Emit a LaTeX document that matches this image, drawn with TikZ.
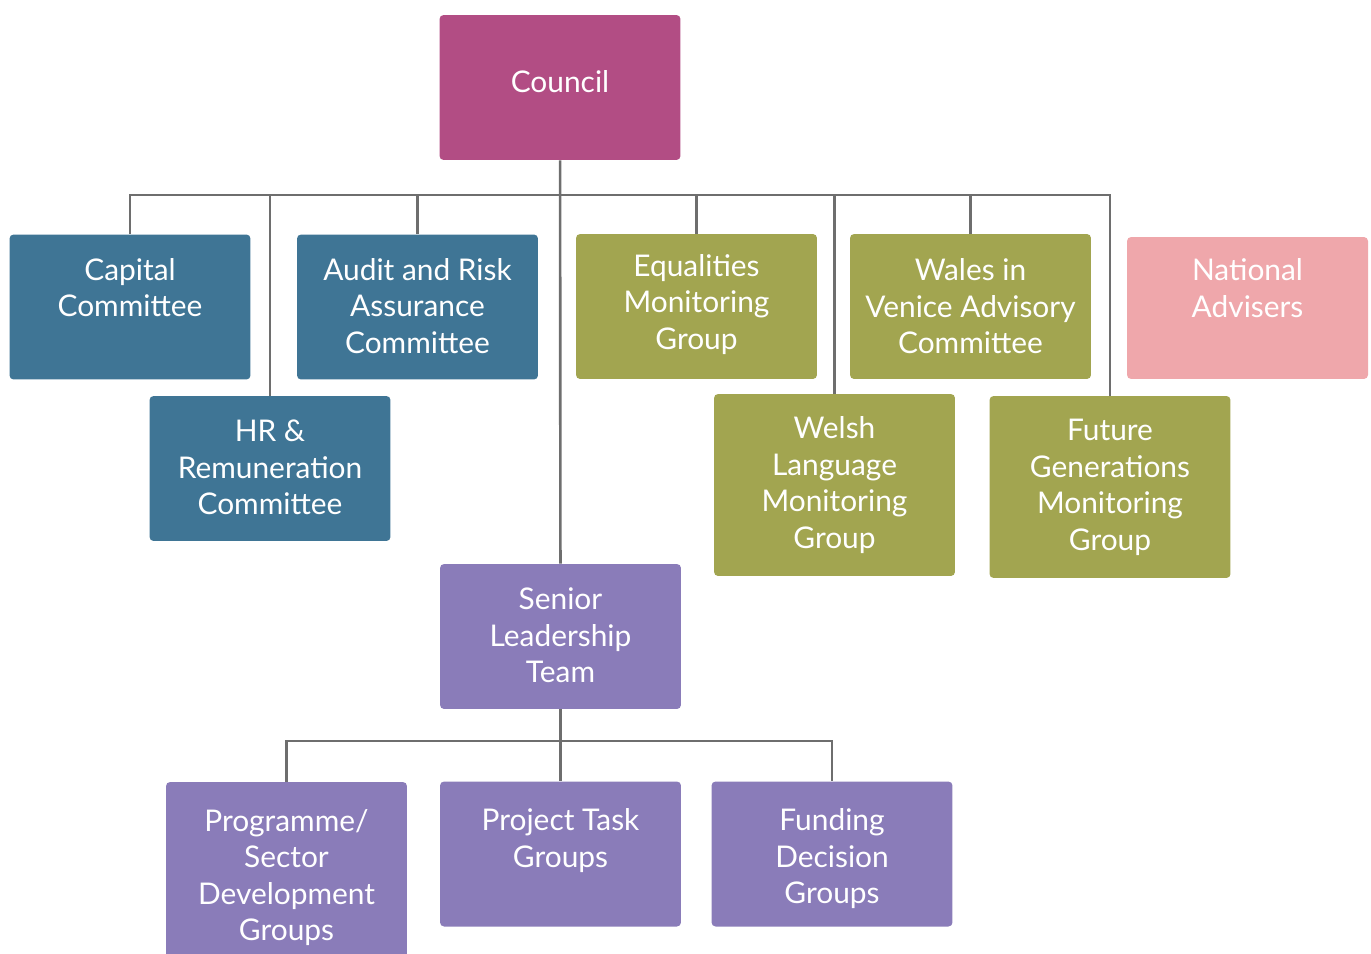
\documentclass[tikz,border=0pt]{standalone}
\usepackage{fontspec}
\setmainfont{Lato}
\usetikzlibrary{positioning,calc}
\usepackage{xcolor}

\definecolor{councilpink}{HTML}{B24D84}
\definecolor{committeeblue}{HTML}{3F7595}
\definecolor{groupolive}{HTML}{A2A550}
\definecolor{adviserpink}{HTML}{EFA7AB}
\definecolor{teampurple}{HTML}{8A7CB9}
\definecolor{linkgray}{HTML}{6E6E6E}

% box text: fixed height, lines hung from the top
\newcommand{\boxtext}[3]{\parbox[c][#1][t]{4.7cm}{\centering\rule{0pt}{#2}#3}}

\begin{document}
\begin{tikzpicture}[
    x=0.02cm, y=-0.02cm,
    every node/.style={font=\fontsize{17pt}{20.8pt}\selectfont},
    orgbox/.style={
        rectangle,
        rounded corners=2.3pt,
        inner sep=0pt,
        minimum width=4.82cm,
        text=white
    },
    link/.style={
        draw=linkgray,
        line width=1.5pt
    }
]

\useasboundingbox (0,0) rectangle (1371,953);

% Council at the top
\node[orgbox, fill=councilpink] (council) at (560,87.5)
    {\boxtext{2.9cm}{44pt}{Council}};

% First row of committees and groups
\node[orgbox, fill=committeeblue] (capital) at (130,307)
    {\boxtext{2.9cm}{26pt}{Capital\\Committee}};
\node[orgbox, fill=committeeblue] (audit) at (417.5,307)
    {\boxtext{2.9cm}{26pt}{Audit and Risk\\Assurance\\Committee}};
\node[orgbox, fill=groupolive] (equal) at (696.5,306.5)
    {\boxtext{2.9cm}{24pt}{Equalities\\Monitoring\\Group}};
\node[orgbox, fill=groupolive] (venice) at (970.5,306.5)
    {\boxtext{2.9cm}{26.5pt}{Wales in\\Venice Advisory\\Committee}};
\node[orgbox, fill=adviserpink] (national) at (1247.5,308)
    {\boxtext{2.84cm}{25pt}{National\\Advisers}};

% Second row
\node[orgbox, fill=committeeblue] (hr) at (270,468.5)
    {\boxtext{2.9cm}{26pt}{HR \&\\Remuneration\\Committee}};
\node[orgbox, fill=groupolive] (welsh) at (834.5,485)
    {\boxtext{3.64cm}{25.5pt}{Welsh\\Language\\Monitoring\\Group}};
\node[orgbox, fill=groupolive] (future) at (1110,487)
    {\boxtext{3.64cm}{25.5pt}{Future\\Generations\\Monitoring\\Group}};

% Senior Leadership Team and its groups
\node[orgbox, fill=teampurple] (slt) at (560.5,636.5)
    {\boxtext{2.9cm}{26pt}{Senior\\Leadership\\Team}};
\node[orgbox, fill=teampurple] (programme) at (286.5,873)
    {\boxtext{3.64cm}{28pt}{Programme/\\Sector\\Development\\Groups}};
\node[orgbox, fill=teampurple] (project) at (560.5,854)
    {\boxtext{2.9cm}{28pt}{Project Task\\Groups}};
\node[orgbox, fill=teampurple] (funding) at (832,854)
    {\boxtext{2.9cm}{28pt}{Funding\\Decision\\Groups}};

% Connectors
\coordinate (cbus) at (559,195);
\coordinate (sbus) at (559,741);

\draw[link] (council) -- (slt);
\draw[link] (capital) |- (future |- cbus) -- (future);
\foreach \n in {hr,audit,equal,welsh,venice}
    \draw[link] (\n) -- (\n |- cbus);

\draw[link] (programme) |- (funding |- sbus) -- (funding);
\draw[link] (slt) -- (project);

\end{tikzpicture}
\end{document}
